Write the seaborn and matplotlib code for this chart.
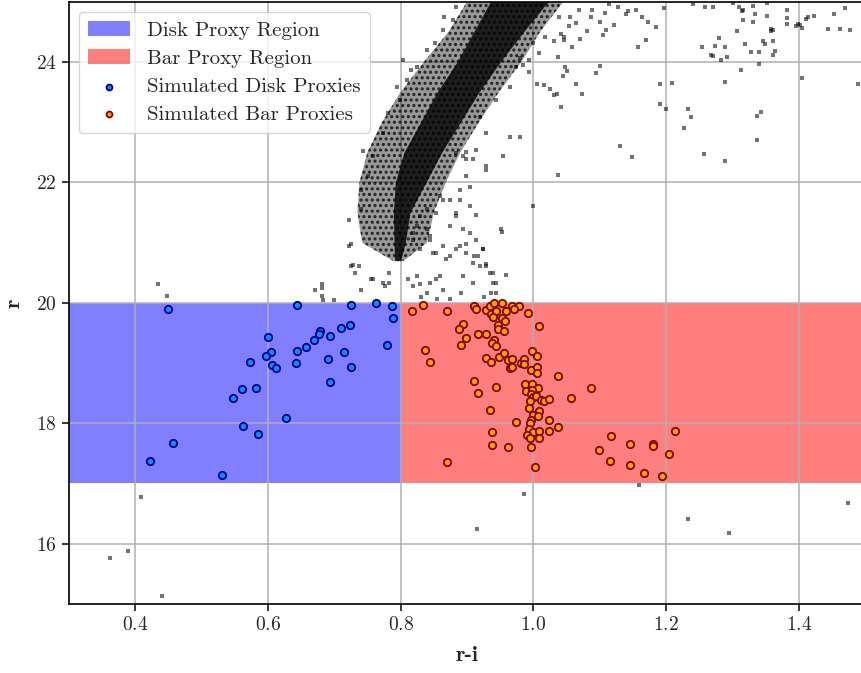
import numpy as np
import pandas as pd
import matplotlib
matplotlib.use("Agg")
import matplotlib.pyplot as plt
import seaborn as sns

# ── Datos ────────────────────────────────────────────────────────────────────
disk_ri = [0.450, 0.644, 0.725, 0.763, 0.787, 0.788, 0.600, 0.678, 0.677, 0.694,
           0.710, 0.724, 0.669, 0.657, 0.644, 0.605, 0.597, 0.780, 0.715, 0.691,
           0.573, 0.643, 0.607, 0.612, 0.726, 0.694, 0.561, 0.582, 0.548, 0.627,
           0.562, 0.585, 0.457, 0.423, 0.531]
disk_r = [19.89, 19.97, 19.96, 19.99, 19.94, 19.75, 19.43, 19.54, 19.49, 19.45,
          19.59, 19.63, 19.39, 19.27, 19.20, 19.18, 19.11, 19.30, 19.19, 19.07,
          19.01, 19.00, 18.96, 18.92, 18.93, 18.69, 18.57, 18.58, 18.42, 18.09,
          17.96, 17.83, 17.67, 17.37, 17.14]

bar_ri = [0.817, 0.833, 0.870, 0.910, 0.913, 0.928, 0.936, 0.934, 0.941, 0.944,
          0.952, 0.958, 0.967, 0.978, 0.970, 0.939, 0.953, 0.957, 0.947, 0.946,
          0.956, 0.992, 1.009, 0.894, 0.888, 0.899, 0.916, 0.928, 0.941, 0.938,
          0.943, 0.891, 0.837, 0.844, 0.928, 0.936, 0.948, 0.955, 0.961, 0.967,
          0.964, 0.967, 0.981, 0.985, 0.986, 0.998, 1.006, 0.996, 1.006, 1.006,
          1.037, 0.910, 0.943, 0.916, 1.087, 1.056, 0.934,
          0.988, 0.998, 1.007, 0.989, 0.998, 0.997, 0.999, 0.995, 1.004, 1.012,
          1.016, 1.024, 0.993, 1.009, 0.999, 1.007, 0.997, 0.995, 0.974, 1.024,
          0.993, 0.999, 0.991, 0.995, 1.008, 1.008, 1.024, 1.037, 0.962, 0.996,
          0.938, 0.937, 0.870, 1.002, 1.117, 1.146, 1.180, 1.180, 1.213, 1.204,
          1.098, 1.115, 1.145, 1.167, 1.194]
bar_r = [19.86, 19.96, 19.87, 19.94, 19.89, 19.88, 19.82, 19.95, 19.99, 19.86,
         19.99, 19.86, 19.95, 19.95, 19.89, 19.77, 19.74, 19.69, 19.63, 19.56,
         19.53, 19.83, 19.62, 19.65, 19.57, 19.42, 19.49, 19.49, 19.38, 19.34,
         19.28, 19.30, 19.22, 19.01, 19.08, 19.02, 19.10, 19.16, 19.05, 19.07,
         18.91, 18.94, 19.00, 19.07, 18.98, 19.20, 19.11, 18.88, 18.94, 18.84,
         18.79, 18.71, 18.61, 18.50, 18.59, 18.42, 18.22,
         18.66, 18.65, 18.59, 18.54, 18.55, 18.48, 18.43, 18.37, 18.45, 18.39,
         18.37, 18.40, 18.26, 18.21, 18.13, 18.12, 18.06, 18.00, 18.02, 18.06,
         17.91, 17.85, 17.80, 17.75, 17.87, 17.75, 17.87, 17.93, 17.60, 17.60,
         17.85, 17.64, 17.35, 17.27, 17.79, 17.66, 17.65, 17.62, 17.87, 17.49,
         17.56, 17.38, 17.31, 17.17, 17.13]

# estrellas de campo dispersas
field_ri = [1.197, 1.240, 1.258, 1.270, 1.301, 1.309, 1.314, 1.316, 1.330, 1.334,
            1.352, 1.351, 1.382, 1.381, 1.381, 1.395, 1.399, 1.402, 1.405, 1.411,
            1.414, 1.423, 1.452, 1.469, 1.443, 1.461, 1.476, 1.316, 1.330, 1.307,
            1.358, 1.361, 1.357, 1.280, 1.253, 1.274, 1.289, 1.319, 1.345, 1.348,
            1.360, 1.363, 1.361, 1.328, 1.339, 1.268, 1.271, 1.283, 1.291, 1.340,
            1.313, 1.404, 1.488, 1.289, 1.208, 1.190, 1.190, 1.199, 1.232, 1.237,
            1.226, 1.342, 1.336, 1.336, 1.256, 1.289, 1.130, 1.149, 1.100, 1.094,
            1.064, 1.073, 1.041, 1.047, 1.050, 1.044, 1.170, 1.157, 1.185, 1.173,
            1.163, 1.143, 1.127, 1.113, 1.121, 1.100, 1.086, 1.109, 1.104, 1.058,
            1.070, 1.046, 1.155, 1.139, 1.107, 1.088,
            1.005, 1.016, 1.025, 1.031, 1.035, 1.037, 1.080, 1.064, 1.053, 1.055,
            1.068, 1.039, 1.042, 1.046, 1.031, 1.018, 1.009, 0.994, 0.984, 0.979,
            0.999,
            0.743, 0.723, 0.726, 0.737, 0.741, 0.731, 0.758, 0.776, 0.783, 0.811,
            0.819, 0.824, 0.839, 0.854, 0.864, 0.884, 0.894, 0.904, 0.914, 0.924,
            0.929, 0.934, 0.939, 0.944, 0.909, 0.916, 0.899, 0.884, 0.869, 0.854,
            0.844, 0.839, 0.829, 0.819, 0.864, 0.854, 0.874, 0.889, 0.904, 0.899,
            0.929, 0.954, 0.964, 0.979, 0.951, 0.999, 1.037, 0.929, 0.914, 0.894,
            0.919, 0.944, 0.964, 0.974, 0.994, 0.723, 0.741, 0.741, 0.751, 0.758,
            0.773, 0.781, 0.799, 0.809, 0.824, 0.839, 0.851, 0.864, 0.866, 0.879,
            0.884, 0.803, 0.816, 0.794,
            0.726, 0.728, 0.904, 0.884, 0.914, 0.952, 0.929, 0.919, 0.929, 0.939,
            0.959, 0.944, 0.909, 0.894, 0.859, 0.844, 0.829, 0.774, 0.756, 0.783,
            0.889, 0.899, 0.874, 0.864, 0.844, 0.849, 0.829, 0.819, 0.824, 0.839,
            0.859, 0.874, 0.889, 0.899, 0.909, 0.899, 0.884, 0.911, 0.924,
            0.434, 0.448, 0.682, 0.682, 0.671, 0.682, 0.683, 0.699, 0.831, 0.855,
            0.874, 0.891, 0.925, 0.936,
            0.363, 0.389, 0.409, 0.440, 0.915, 0.985, 1.159, 1.233, 1.295, 1.474]
field_r = [24.89, 24.96, 24.91, 24.91, 24.97, 24.91, 24.85, 24.87, 24.93, 24.79,
           24.77, 24.97, 24.86, 24.73, 24.63, 24.60, 24.63, 24.61, 24.56, 24.71,
           24.74, 24.77, 24.79, 24.89, 24.54, 24.54, 24.53, 24.69, 24.66, 24.51,
           24.55, 24.53, 24.51, 24.39, 24.24, 24.26, 24.24, 24.29, 24.34, 24.29,
           24.34, 24.18, 24.11, 24.16, 24.16, 24.11, 24.09, 24.03, 24.08, 23.96,
           23.86, 23.73, 23.63, 23.66, 23.65, 23.63, 23.30, 23.22, 23.22, 23.08,
           22.90, 23.17, 23.10, 22.70, 22.47, 22.35, 22.60, 22.42, 23.93, 23.81,
           23.63, 23.46, 23.25, 23.91, 23.85, 23.76, 24.36, 24.24, 24.58, 24.66,
           24.74, 24.84, 24.91, 24.96, 24.61, 24.67, 24.74, 24.53, 24.44, 24.24,
           24.38, 24.36, 24.86, 24.79, 24.81, 24.86,
           23.63, 23.61, 23.55, 23.45, 23.46, 24.08, 24.52, 24.64, 24.59, 24.75,
           24.86, 24.75, 24.47, 24.41, 24.34, 24.42, 24.14, 23.84, 23.95, 24.06,
           24.31,
           22.52, 20.94, 20.61, 20.61, 20.22, 20.50, 20.39, 20.28, 20.33, 20.39,
           20.28, 20.44, 20.17, 20.39, 20.22, 21.49, 21.22, 21.16, 21.05, 20.89,
           20.61, 20.50, 20.33, 20.17, 20.66, 20.77, 20.83, 20.89, 20.72, 20.83,
           21.05, 21.22, 21.44, 21.16, 21.71, 21.49, 21.27, 21.71, 21.93, 22.10,
           22.27, 22.43, 22.76, 22.76, 21.22, 21.60, 22.13, 22.82, 22.54, 22.43,
           23.09, 23.37, 23.59, 23.92, 24.03, 21.38, 21.55, 21.88, 22.10, 22.43,
           22.82, 23.15, 23.37, 23.70, 23.92, 24.20, 24.31, 24.53, 24.75, 24.70,
           24.92, 24.03, 23.87, 23.59,
           20.97, 20.62, 21.60, 21.44, 21.45, 21.18, 22.21, 20.61, 20.64, 20.50,
           20.47, 20.33, 20.33, 20.44, 20.44, 20.33, 20.31, 20.33, 20.39, 20.50,
           20.95, 20.97, 20.78, 20.94, 21.11, 20.83, 20.89, 21.05, 21.27, 21.55,
           21.77, 21.71, 21.88, 22.38, 22.38, 22.51, 22.49, 20.78, 20.89,
           20.31, 20.12, 20.31, 20.24, 20.21, 20.12, 20.05, 20.05, 20.10, 20.06,
           20.06, 20.16, 20.09, 20.17,
           15.76, 15.88, 16.77, 15.13, 16.24, 16.82, 16.97, 16.41, 16.18, 16.67]

# contorno de la secuencia densa (bordes leídos por nivel de r)
seq_r = [20.70, 21.00, 21.50, 22.00, 22.50, 23.00, 23.50, 24.00, 24.50, 25.00, 25.30]
seq_outer_lo = [0.788, 0.742, 0.735, 0.738, 0.750, 0.772, 0.800, 0.835, 0.872, 0.900, 0.915]
seq_outer_hi = [0.805, 0.840, 0.850, 0.868, 0.890, 0.918, 0.948, 0.982, 1.010, 1.045, 1.065]
seq_core_lo = [0.791, 0.790, 0.789, 0.792, 0.805, 0.830, 0.855, 0.885, 0.910, 0.935, 0.950]
seq_core_hi = [0.800, 0.807, 0.814, 0.838, 0.862, 0.890, 0.918, 0.950, 0.985, 1.022, 1.040]

# regiones proxy
disk_x = [0.3, 0.8]
bar_x = [0.8, 1.5]
r_lo, r_hi = 17.0, 20.0

# ── Estilo ───────────────────────────────────────────────────────────────────
sns.set_style("ticks")
plt.rcParams["font.family"] = ["cmr10", "DejaVu Serif"]
plt.rcParams["mathtext.fontset"] = "cm"
plt.rcParams["axes.formatter.use_mathtext"] = True
plt.rcParams["hatch.linewidth"] = 1.5

fig = plt.figure(figsize=(8.61, 6.73), dpi=100)
ax = fig.add_axes([0.0796, 0.1026, 0.9257, 0.8949])

ax.fill_between(disk_x, r_lo, r_hi, color="blue", alpha=0.5, linewidth=0,
                label="Disk Proxy Region", zorder=1)
ax.fill_between(bar_x, r_lo, r_hi, color="red", alpha=0.5, linewidth=0,
                label="Bar Proxy Region", zorder=1)

# secuencia densa de fondo: halo punteado + núcleo oscuro
ax.fill_betweenx(seq_r, seq_outer_lo, seq_outer_hi, facecolor=(0, 0, 0, 0.4),
                 edgecolor=(0, 0, 0, 0.75), hatch="...", linewidth=0, zorder=2)
ax.fill_betweenx(seq_r, seq_core_lo, seq_core_hi, facecolor=(0, 0, 0, 0.8),
                 linewidth=0, zorder=2)

field = pd.DataFrame({"ri": field_ri, "r": field_r})
sns.scatterplot(data=field, x="ri", y="r", marker="s", s=6, color="black",
                alpha=0.55, linewidth=0, ax=ax, zorder=2, legend=False)

disk = pd.DataFrame({"ri": disk_ri, "r": disk_r})
bar = pd.DataFrame({"ri": bar_ri, "r": bar_r})
sns.scatterplot(data=disk, x="ri", y="r", s=28, color="#0a8cff",
                edgecolor="#00008b", linewidth=1.3, ax=ax, zorder=3,
                label="Simulated Disk Proxies")
sns.scatterplot(data=bar, x="ri", y="r", s=28, color="orange",
                edgecolor="darkred", linewidth=1.3, ax=ax, zorder=3,
                label="Simulated Bar Proxies")

ax.set_xlim(0.3, 1.5)
ax.set_ylim(15, 25)
ax.set_xticks([0.4, 0.6, 0.8, 1.0, 1.2, 1.4])
ax.set_yticks([16, 18, 20, 22, 24])
ax.grid(True, color="#b0b0b0", linewidth=1.1)
ax.set_axisbelow("line")
ax.tick_params(labelsize=14, width=1.1, length=5, color="black")
for sp in ax.spines.values():
    sp.set_visible(True)
    sp.set_color("black")
    sp.set_linewidth(1.2)

ax.set_xlabel("r-i", fontsize=16, fontfamily="cmb10", labelpad=9)
ax.set_ylabel("r", fontsize=16, fontfamily="cmb10", labelpad=9)

ax.legend(loc="upper left", fontsize=15, framealpha=0.8, borderpad=0.45,
          handlelength=2.0, markerscale=0.8, labelspacing=0.45)

fig.savefig("out.png", dpi=100)
